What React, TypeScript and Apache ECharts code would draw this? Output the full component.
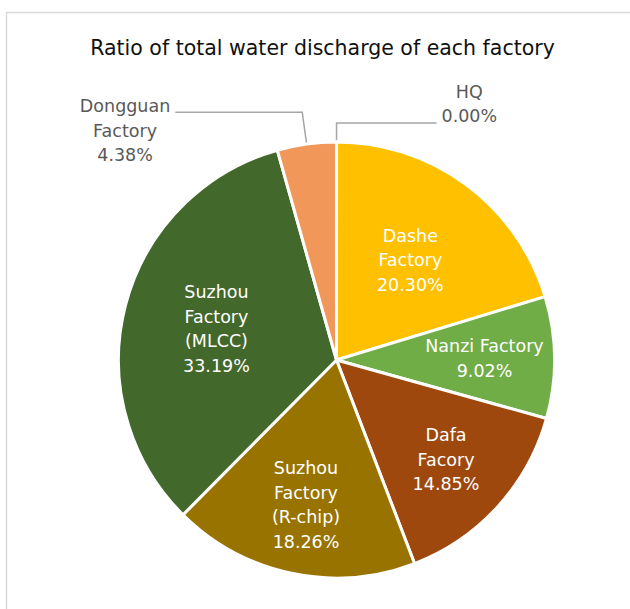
import React, { useEffect, useRef } from 'react';
import * as echarts from 'echarts';

// Share of total water discharge, in percent, in clockwise order from 12 o'clock.
const titleText = 'Ratio of total water discharge of each factory';
const factories = [
  'HQ',
  'Dashe\nFactory',
  'Nanzi Factory',
  'Dafa\nFacory',
  'Suzhou\nFactory\n(R-chip)',
  'Suzhou\nFactory\n(MLCC)',
  'Dongguan\nFactory',
];
const shares = [0.0, 20.3, 9.02, 14.85, 18.26, 33.19, 4.38];

const sliceColors = ['#4472C4', '#FFC000', '#70AD47', '#9E480E', '#997300', '#43682B', '#F1975A'];

// Which inside ring each inner label uses (the other two labels sit outside on leader lines).
const nearRing = ['Dashe\nFactory', 'Suzhou\nFactory\n(MLCC)'];
const farRing = ['Nanzi Factory', 'Dafa\nFacory', 'Suzhou\nFactory\n(R-chip)'];

const FONT = 'DejaVu Sans';
const CENTER = [336.5, 360];
const RADIUS = 218;
// A hair under 90° so the zero-size first slice counts as lying on the right-hand side.
const START_ANGLE = 89.99;

const labelText = (p: any) => {
  const lines = String(p.name).split('\n');
  lines.push(Number(p.percent).toFixed(2) + '%');
  return lines.map((l) => `{c|${l}}`).join('\n');
};

const richFor = (color: string) => ({
  c: { align: 'center', fontFamily: FONT, fontSize: 17.5, lineHeight: 24.5, color },
});

export default function App() {
  const ref = useRef<HTMLDivElement>(null);

  useEffect(() => {
    if (!ref.current) return;
    const chart = echarts.init(ref.current, undefined, { renderer: 'svg' });

    const mainData = factories.map((name, i) => {
      const item: any = { name, value: shares[i], itemStyle: { color: sliceColors[i] } };
      if (name === 'HQ') {
        item.label = { show: true, padding: [0, 0, 38, 0] };
        item.labelLine = { show: true, length: 19, length2: 100 };
      } else if (name === 'Dongguan\nFactory') {
        item.label = { show: true, padding: [37, 0, 0, 0] };
        item.labelLine = { show: true, length: 32, length2: 127 };
      } else {
        item.label = { show: false };
        item.labelLine = { show: false };
      }
      return item;
    });

    const ringData = (names: string[]) =>
      factories.map((name, i) => ({
        name,
        value: shares[i],
        label: { show: names.includes(name) },
      }));

    const labelRing = (inner: number, names: string[]) => ({
      type: 'pie',
      silent: true,
      center: CENTER,
      radius: [inner, RADIUS],
      startAngle: START_ANGLE,
      clockwise: true,
      animation: false,
      itemStyle: { color: 'rgba(0,0,0,0)', borderWidth: 0 },
      label: {
        show: true,
        position: 'inside',
        formatter: labelText,
        rich: richFor('#ffffff'),
      },
      labelLine: { show: false },
      emphasis: { disabled: true },
      data: ringData(names),
    });

    chart.setOption({
      animation: false,
      backgroundColor: '#ffffff',
      graphic: [
        {
          type: 'rect',
          shape: { x: 6.5, y: 12.5, width: 700, height: 700 },
          style: { fill: 'none', stroke: '#d9d9d9', lineWidth: 1.5 },
          silent: true,
          z: -10,
        },
        {
          type: 'text',
          x: 322.5,
          y: 48,
          style: {
            text: titleText,
            align: 'center',
            verticalAlign: 'middle',
            fontFamily: FONT,
            fontSize: 20.5,
            fill: '#111111',
          },
          silent: true,
        },
      ],
      series: [
        {
          type: 'pie',
          center: CENTER,
          radius: [0, RADIUS],
          startAngle: START_ANGLE,
          clockwise: true,
          avoidLabelOverlap: false,
          itemStyle: { borderColor: '#ffffff', borderWidth: 3 },
          label: {
            position: 'outside',
            formatter: labelText,
            distanceToLabelLine: 5,
            rich: richFor('#595959'),
          },
          labelLine: { lineStyle: { color: '#a6a6a6', width: 1.5 } },
          emphasis: { disabled: true },
          data: mainData,
        },
        labelRing(24, nearRing),
        labelRing(72, farRing),
      ],
    });

    return () => chart.dispose();
  }, []);

  return (
    <div
      ref={ref}
      style={{ position: 'fixed', left: 0, top: 0, width: 630, height: 609 }}
    />
  );
}
